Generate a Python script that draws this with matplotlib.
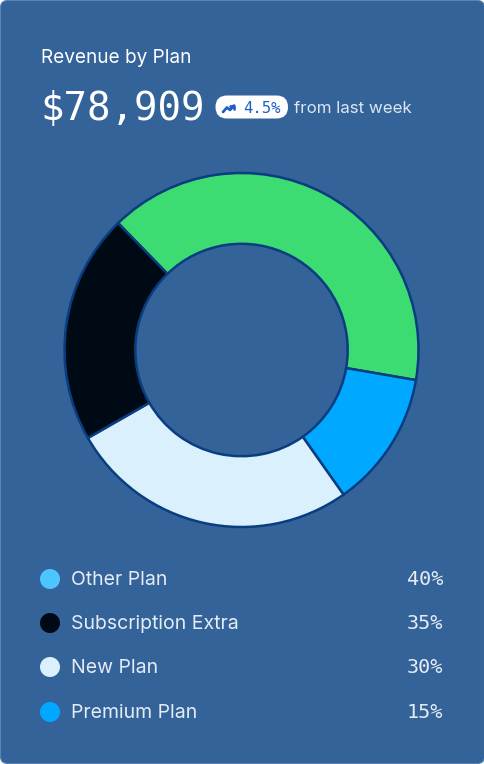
import matplotlib.pyplot as plt
from matplotlib.patches import FancyBboxPatch, Circle

# Data
ring_values = [40, 12.5, 26.5, 21]
ring_colors = ['#3DDC73', '#00A8FF', '#DAF0FD', '#000A14']

legend_labels = ['Other Plan', 'Subscription Extra', 'New Plan', 'Premium Plan']
legend_pcts = ['40%', '35%', '30%', '15%']
legend_colors = ['#4DC6FF', '#000A14', '#DAF0FD', '#00A8FF']

total = '$78,909'
change = '4.5%'

W, H = 485, 764
bg = '#346399'
fig = plt.figure(figsize=(W / 100, H / 100), dpi=100, facecolor='white')

# main canvas in pixel coordinates
ax = fig.add_axes([0, 0, 1, 1])
ax.set_xlim(0, W)
ax.set_ylim(H, 0)
ax.axis('off')

ax.add_patch(FancyBboxPatch((0.5, 0.5), W - 1, H - 1,
                            boxstyle='round,pad=0,rounding_size=7',
                            fc=bg, ec='#5A84B6', lw=0.8))

# header
ax.text(41, 63, 'Revenue by Plan', fontsize=13.7, family='Inter',
        color='white', va='baseline')
ax.text(40, 120, total, fontsize=28.2, family='DejaVu Sans Mono',
        color='white', va='baseline')

ax.add_patch(FancyBboxPatch((215.5, 95.5), 72.5, 23,
                            boxstyle='round,pad=0,rounding_size=11.5',
                            fc='white', ec='none'))
ax.plot([223, 227, 230, 234], [112, 107.5, 110, 105.5], color='#1A5CC8',
        lw=1.9, solid_capstyle='round', solid_joinstyle='round')
ax.plot([230.5, 234, 234], [105.5, 105.5, 109], color='#1A5CC8',
        lw=1.9, solid_capstyle='round', solid_joinstyle='round')
ax.text(243, 113, change, fontsize=11.2, family='DejaVu Sans Mono',
        color='#1A5CC8', va='baseline')
ax.text(294, 113, 'from last week', fontsize=12.2, family='Inter',
        color='#DCE6F3', va='baseline')

# donut
cx, cy, r = 241.5, 350, 177
pad = 1.02
pax = fig.add_axes([(cx - r * pad) / W, (H - cy - r * pad) / H,
                    2 * r * pad / W, 2 * r * pad / H])
pax.pie(ring_values, colors=ring_colors, startangle=134.2, counterclock=False,
        radius=1, frame=True,
        wedgeprops=dict(width=0.4, edgecolor='#0A3D80', linewidth=1.8))
pax.set_xlim(-pad, pad)
pax.set_ylim(-pad, pad)
pax.set_aspect('equal')
pax.axis('off')

# legend rows
row_y = [579, 623, 667, 712]
for y, lab, pct, col in zip(row_y, legend_labels, legend_pcts, legend_colors):
    ax.add_patch(Circle((50, y), 10, fc=col, ec='none'))
    ax.text(71, y + 6, lab, fontsize=14, family='Inter',
            color='#E4ECF6', va='baseline')
    ax.text(443, y + 6, pct, fontsize=14.5, family='DejaVu Sans Mono',
            color='#E4ECF6', va='baseline', ha='right')

fig.savefig('out.png', dpi=100, facecolor='white')
